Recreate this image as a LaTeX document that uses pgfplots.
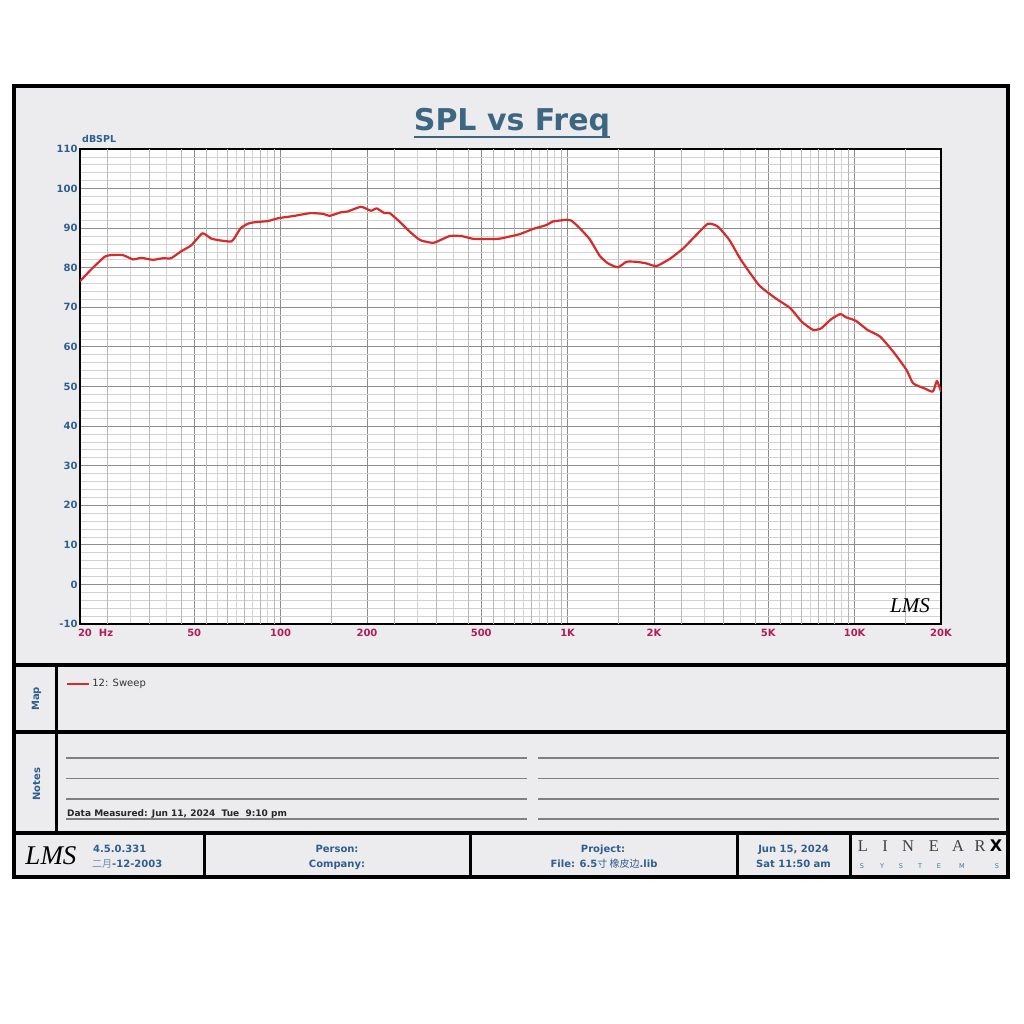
\documentclass[border=0pt]{standalone}
\usepackage{pgfplots}
\pgfplotsset{compat=1.18}
\usepackage{fontspec}
\setmainfont{DejaVu Sans}
\newfontfamily\cjk{Noto Sans CJK SC}
\newfontfamily\serif{Liberation Serif}
\definecolor{lblue}{HTML}{2F5E8E}
\definecolor{ttl}{HTML}{3D6681}
\definecolor{xred}{HTML}{B01E5A}
\definecolor{curve}{HTML}{D62B2B}
\definecolor{panel}{HTML}{ECECEE}
\definecolor{gmaj}{HTML}{8C8C8C}
\definecolor{gmin}{HTML}{D2D2D2}
\definecolor{gmid}{HTML}{B8B8B8}
\definecolor{sysblue}{HTML}{3A7CA5}
\pgfplotstableread{
f db
20 76.6
22.1 79.9
24.4 82.8
25.7 83.2
28.2 83.2
30.6 82.1
32.7 82.5
35.9 82.0
38.9 82.4
41.5 82.4
44.9 84.1
48.9 85.7
53.4 88.7
57.2 87.4
60.3 87.0
67.0 86.6
68.9 87.4
72.6 90.0
76.8 91.1
81.2 91.5
90.4 91.8
97.9 92.5
111.6 93.1
127 93.8
141 93.6
148 93.1
162 94.0
171 94.2
190.6 95.4
206.5 94.4
216 95.0
230 93.8
240 93.8
260 91.6
282 89.1
306 87.0
341 86.3
388 88.0
427 88.0
470 87.3
573 87.3
612 87.7
682 88.5
758 89.8
844 90.8
890 91.7
990 92.1
1031 91.9
1102 90.0
1194 87.2
1294 83.0
1383 81.1
1498 80.1
1602 81.5
1736 81.5
1881 81.1
2038 80.4
2266 82.2
2327 82.8
2530 84.9
2733 87.4
3080 91.1
3337 90.4
3662 87.0
4016 82.0
4643 75.6
5299 72.3
5965 69.8
6536 66.4
7164 64.3
7653 64.7
8281 67.0
8918 68.3
9324 67.5
10100 66.6
11080 64.3
12270 62.6
13630 58.8
15160 54.2
15990 50.8
17540 49.5
18740 48.7
19360 51.4
20000 48.7
}\spl
\begin{document}
\begin{tikzpicture}[x=1pt,y=1pt]
\fill[white] (0,0) rectangle (1024,1024);
\path[use as bounding box] (0,0) rectangle (1024,1024);
\fill[panel] (14,147) rectangle (1008,938);
% title
\node[anchor=base, font=\bfseries\fontsize{30}{32}\selectfont, text=ttl, inner sep=0pt] at (512,893) {SPL vs Freq};
\draw[ttl, line width=2.2pt] (414,887) -- (610,887);
\node[anchor=base west, font=\bfseries\fontsize{9.5}{11}\selectfont, text=lblue, inner sep=0pt] at (82,881) {dBSPL};
\begin{axis}[
  at={(80pt,400pt)}, anchor=south west, scale only axis,
  width=861pt, height=475pt,
  xmode=log, xmin=20, xmax=20000, ymin=-10, ymax=110,
  axis background/.style={fill=white},
  axis line style={black, line width=1.6pt},
  xtick={20,50,100,200,500,1000,2000,5000,10000,20000},
  xticklabels={\makebox[0pt][l]{\hspace{-2pt}20\hspace{7pt}Hz},50,100,200,500,1K,2K,5K,10K,20K},
  minor xtick={30,40,60,70,80,90,300,400,600,700,800,900,3000,4000,6000,7000,8000,9000},
  extra x ticks={25,35,45,55,65,75,85,95,150,250,350,450,550,650,750,850,950,1500,2500,3500,4500,5500,6500,7500,8500,9500,15000},
  extra x tick labels={},
  extra x tick style={grid=major, major grid style={gmid, line width=0.8pt}},
  ytick={-10,0,10,20,30,40,50,60,70,80,90,100,110},
  yticklabels={-10,0,10,20,30,40,50,60,70,80,90,100,110},
  minor y tick num=4,
  grid=both,
  major grid style={gmaj, line width=1pt},
  minor grid style={gmin, line width=0.7pt},
  tick style={draw=none},
  xticklabel style={font=\bfseries\fontsize{10}{12}\selectfont, text=xred, yshift=-2pt},
  yticklabel style={font=\bfseries\fontsize{10}{12}\selectfont, text=lblue, xshift=1pt},
  legend style={at={(axis description cs:-0.0163,-0.126)}, anchor=west, draw=none, fill=none,
     font=\fontsize{10}{12}\selectfont, text=black!80, inner sep=0pt},
  legend image code/.code={\draw[#1] (0pt,0pt) -- (22pt,0pt);},
]
\addplot[curve, line width=2.2pt, line join=round, smooth, tension=0.3] table[x=f, y=db] {\spl};
\addlegendentry{12: Sweep}
\end{axis}
% LMS logo in plot
\node[font=\serif\itshape\fontsize{21}{22}\selectfont, text=black] at (910,418) {LMS};
% frame
\draw[black, line width=4pt] (14,147) rectangle (1008,938);
\draw[black, line width=4pt] (14,359) -- (1008,359);
\draw[black, line width=4pt] (14,292) -- (1008,292);
\draw[black, line width=4pt] (14,191) -- (1008,191);
\draw[black, line width=2.5pt] (56.5,359) -- (56.5,191);
\foreach \xx in {204.5,470.5,737,850} {\draw[black, line width=3pt] (\xx,191) -- (\xx,147);}
% side labels
\node[rotate=90, font=\bfseries\fontsize{10}{12}\selectfont, text=lblue] at (36.5,325) {Map};
\node[rotate=90, font=\bfseries\fontsize{10}{12}\selectfont, text=lblue] at (36.5,240) {Notes};
% notes lines
\foreach \yy in {266,245.5,225,205} {
  \draw[black!50, line width=1.2pt] (66,\yy) -- (527,\yy);
  \draw[black!50, line width=1.2pt] (538,\yy) -- (999,\yy);
}
\node[anchor=base west, inner sep=0pt, font=\bfseries\fontsize{9}{11}\selectfont, text=black!85] at (67,207) {Data Measured: Jun 11, 2024\ \ Tue\ \ 9:10 pm};
% footer
\node[font=\serif\itshape\fontsize{27}{28}\selectfont, text=black] at (51,168) {LMS};
\node[anchor=base west, inner sep=0pt, font=\bfseries\fontsize{10}{12}\selectfont, text=lblue] at (93,171) {4.5.0.331};
\node[anchor=base west, inner sep=0pt, font=\bfseries\fontsize{10}{12}\selectfont, text=lblue] at (92,156.5) {{\cjk\mdseries\color{lblue!70}二月}-12-2003};
\node[anchor=base, inner sep=0pt, font=\bfseries\fontsize{10}{12}\selectfont, text=lblue] at (337,171) {Person:};
\node[anchor=base, inner sep=0pt, font=\bfseries\fontsize{10}{12}\selectfont, text=lblue] at (337,156.5) {Company:};
\node[anchor=base, inner sep=0pt, font=\bfseries\fontsize{10}{12}\selectfont, text=lblue] at (603,171) {Project:};
\node[anchor=base, inner sep=0pt, font=\bfseries\fontsize{10}{12}\selectfont, text=lblue] at (604,156.5) {File: 6.5{\cjk\mdseries 寸 橡皮边}.lib};
\node[anchor=base, inner sep=0pt, font=\bfseries\fontsize{10}{12}\selectfont, text=lblue] at (793.5,171) {Jun 15, 2024};
\node[anchor=base, inner sep=0pt, font=\bfseries\fontsize{10}{12}\selectfont, text=lblue] at (793.5,156.5) {Sat 11:50 am};
% LINEARX logo
\foreach \ch/\xx in {L/863,I/885,N/908,E/934,A/958,R/980} {
  \node[anchor=base, inner sep=0pt, font=\serif\fontsize{16.5}{17}\selectfont, text=black!75] at (\xx,172) {\ch};
}
\node[anchor=base, inner sep=0pt, font=\bfseries\fontsize{16}{18}\selectfont, text=black] at (996,172) {X};
\foreach \ch/\xx in {S/862,Y/882,S/901,T/920,E/939,M/962,S/997} {
  \node[anchor=base, inner sep=0pt, font=\fontsize{6.5}{7}\selectfont, text=sysblue] at (\xx,155.5) {\ch};
}
\end{tikzpicture}
\end{document}
